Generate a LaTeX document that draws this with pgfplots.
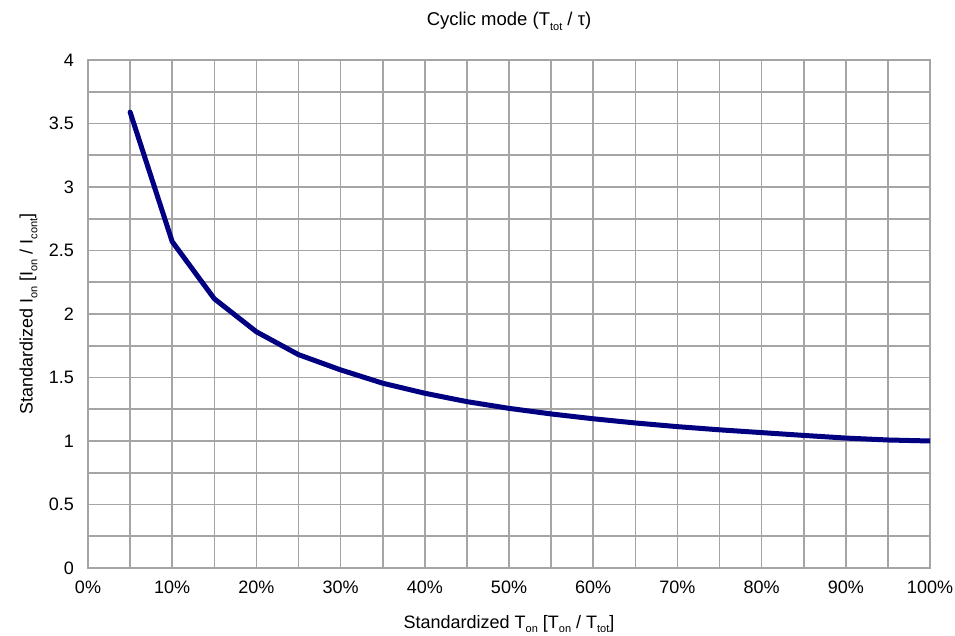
\documentclass[border=0pt]{standalone}
\usepackage{fontspec}
\setmainfont{Liberation Sans}
\usepackage{pgfplots}
\pgfplotsset{compat=1.18}
\definecolor{gridgray}{RGB}{165,165,165}
\definecolor{navyline}{RGB}{0,0,128}
\newcommand\sub[1]{\raisebox{-0.5ex}{\fontsize{11}{11}\selectfont #1}}
\begin{document}
\fontsize{18}{21}\selectfont
\begin{tikzpicture}
\begin{axis}[
  scale only axis,
  width=842pt, height=508pt,
  xmin=0, xmax=100, ymin=0, ymax=4,
  xtick={0,10,...,100},
  minor xtick={5,15,...,95},
  ytick={0,0.5,...,4},
  minor ytick={0.25,0.75,...,3.75},
  yticklabels={0,0.5,1,1.5,2,2.5,3,3.5,4},
  xticklabel={\pgfmathprintnumber[fixed,precision=0]{\tick}\%},
  /pgf/number format/assume math mode=true,
  grid=both,
  major grid style={gridgray, line width=1.6pt},
  minor grid style={gridgray, line width=1.6pt},
  axis line style={gridgray, line width=1.6pt},
  tick style={draw=none},
  major tick length=0pt, minor tick length=0pt,
  tick label style={font=\fontsize{18}{21}\selectfont},
  xticklabel style={yshift=-7pt},
  yticklabel style={xshift=-8pt},
  xlabel={Standardized T\sub{on} [T\sub{on} / T\sub{tot}]},
  ylabel={Standardized I\sub{on} [I\sub{on} / I\sub{cont}]},
  title={Cyclic mode (T\sub{tot} / τ)},
  label style={font=\fontsize{18}{21}\selectfont},
  title style={font=\fontsize{18.5}{21}\selectfont, yshift=17pt},
  xlabel style={yshift=-9pt},
  ylabel style={yshift=-1pt},
]
\addplot[navyline, line width=5pt, line join=round, line cap=round] coordinates {
(5,3.59) (10,2.57) (15,2.12) (20,1.86) (25,1.68) (30,1.56) (35,1.455)
(40,1.376) (45,1.31) (50,1.257) (55,1.213) (60,1.175) (65,1.142)
(70,1.113) (75,1.088) (80,1.066) (85,1.044) (90,1.023) (95,1.008) (100,1.0)
};
\end{axis}
\pgfresetboundingbox
\path[use as bounding box] ([xshift=-88pt,yshift=-68pt]current axis.south west) rectangle ([xshift=25pt,yshift=60pt]current axis.north east);
\end{tikzpicture}
\end{document}
